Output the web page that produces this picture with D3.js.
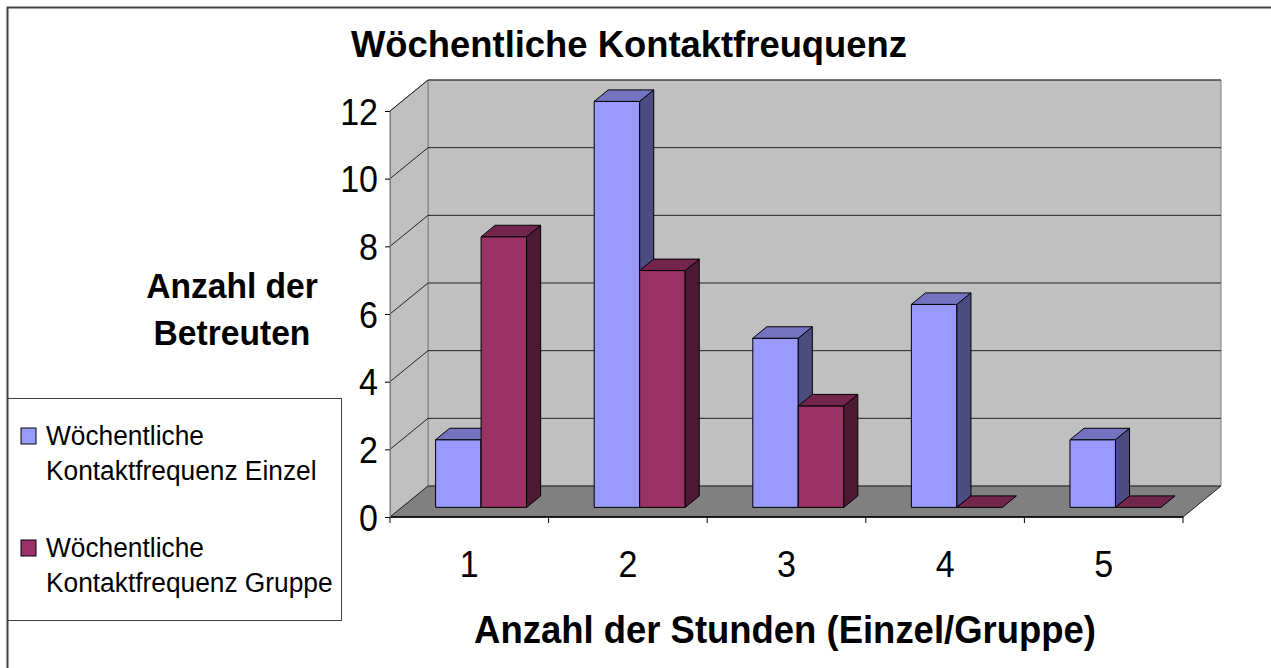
<!DOCTYPE html>
<html><head><meta charset="utf-8">
<script src="https://cdn.jsdelivr.net/npm/d3@7"></script>
<style>
html,body{margin:0;padding:0;background:#fff;}
svg{display:block;font-family:"Liberation Sans",Arial,sans-serif;}
</style></head>
<body>
<svg id="chart" width="1271" height="668"></svg>
<script>
// ---- data ----
const categories = ["1", "2", "3", "4", "5"];
const einzel = [2, 12, 5, 6, 2];
const gruppe = [8, 7, 3, 0, 0];
const seriesNames = ["Wöchentliche Kontaktfrequenz Einzel", "Wöchentliche Kontaktfrequenz Gruppe"];
const yTicks = [0, 2, 4, 6, 8, 10, 12];
const titleText = "Wöchentliche Kontaktfreuquenz";
const yTitleLines = ["Anzahl der", "Betreuten"];
const xTitleText = "Anzahl der Stunden (Einzel/Gruppe)";

// ---- styles ----
const colors = [
  {front: "#9999FF", top: "#7373BF", side: "#4C4C80"},
  {front: "#993366", top: "#73264D", side: "#4D1A33"}
];

const svg = d3.select("#chart");

// 3D projection: front plane scales + depth offset
const DX = 38, DY = 31;
const x = d3.scaleBand().domain(categories).range([390, 1183]).paddingInner(0).paddingOuter(0);
const xi = d3.scaleBand().domain([0, 1]).range([0, x.bandwidth()]).paddingInner(0).paddingOuter(0.743);
const y = d3.scaleLinear().domain([0, 12]).range([517, 111]);
const P = (px, v, z) => [px + z * DX, y(v) - z * DY];
const poly = pts => pts.map(p => p.join(",")).join(" ");

const x0 = x.range()[0], x1 = x.range()[1];

// helper: text with horizontal scale
function stext(parent, tx, ty, sx, size, bold, anchor, str) {
  return parent.append("text")
    .attr("transform", `translate(${tx},${ty}) scale(${sx},1)`)
    .attr("text-anchor", anchor).attr("font-size", size)
    .attr("font-weight", bold ? "bold" : "normal").attr("fill", "#000").text(str);
}

// outer border
svg.append("rect").attr("x", 7.5).attr("y", 7.5).attr("width", 1280).attr("height", 700)
  .attr("fill", "none").attr("stroke", "#404040").attr("stroke-width", 2);

// walls
svg.append("polygon").attr("points", poly([P(x0, 0, 1), P(x1, 0, 1), P(x1, 12, 1), P(x0, 12, 1)]))
  .attr("fill", "#C0C0C0").attr("stroke", "#808080").attr("stroke-width", 1);
svg.append("polygon").attr("points", poly([P(x0, 0, 0), P(x0, 0, 1), P(x0, 12, 1), P(x0, 12, 0)]))
  .attr("fill", "#C0C0C0").attr("stroke", "#808080").attr("stroke-width", 1);

// gridlines
yTicks.forEach(v => {
  if (v === 0) return;
  svg.append("polyline").attr("points", poly([P(x0, v, 0), P(x0, v, 1), P(x1, v, 1)]))
    .attr("fill", "none").attr("stroke", "#222").attr("stroke-width", 1);
});

// floor
svg.append("polygon").attr("points", poly([P(x0, 0, 0), P(x0, 0, 1), P(x1, 0, 1), P(x1, 0, 0)]))
  .attr("fill", "#808080").attr("stroke", "#222").attr("stroke-width", 1);
svg.append("line").attr("x1", x0).attr("x2", x1).attr("y1", y(0)).attr("y2", y(0))
  .attr("stroke", "#000").attr("stroke-width", 1.5);

// bars
const Z0 = 0.31, ZD = 0.37;
const series = [einzel, gruppe];
const gBars = svg.append("g");
categories.forEach((c, i) => {
  series.forEach((vals, s) => {
    const v = vals[i];
    const bx0 = x(c) + xi(s), bx1 = bx0 + xi.bandwidth();
    const col = colors[s];
    const g = gBars.append("g").attr("stroke", "#000").attr("stroke-width", 1).attr("stroke-linejoin", "round");
    if (v > 0) {
      g.append("polygon").attr("points", poly([P(bx0, 0, Z0), P(bx1, 0, Z0), P(bx1, v, Z0), P(bx0, v, Z0)]))
        .attr("fill", col.front);
      g.append("polygon").attr("points", poly([P(bx1, 0, Z0), P(bx1, 0, Z0 + ZD), P(bx1, v, Z0 + ZD), P(bx1, v, Z0)]))
        .attr("fill", col.side);
    }
    g.append("polygon").attr("points", poly([P(bx0, v, Z0), P(bx1, v, Z0), P(bx1, v, Z0 + ZD), P(bx0, v, Z0 + ZD)]))
      .attr("fill", col.top);
  });
});

// y axis
const yAxis = svg.append("g").attr("transform", `translate(${x0},0)`)
  .call(d3.axisLeft(y).tickValues(yTicks).tickSize(5).tickPadding(7).tickFormat(d3.format("d")));
yAxis.select(".domain").attr("stroke", "#808080");
yAxis.selectAll(".tick line").attr("stroke", "#000");
yAxis.selectAll(".tick text").remove();
yAxis.selectAll(".tick").each(function(d) {
  stext(d3.select(this), -12, 13, 0.92, 37, false, "end", d3.format("d")(d));
});

// x axis ticks at category boundaries
const bounds = categories.map(c => x(c)).concat([x1]);
svg.append("g").selectAll("line").data(bounds).join("line")
  .attr("x1", d => d).attr("x2", d => d).attr("y1", y(0)).attr("y2", y(0) + 6)
  .attr("stroke", "#000").attr("stroke-width", 1);
const xl = svg.append("g");
categories.forEach(c => stext(xl, x(c) + x.bandwidth() / 2, 577, 0.92, 37, false, "middle", c));

// titles
stext(svg, 629, 57, 1.0, 36.4, true, "middle", titleText);
yTitleLines.forEach((t, i) => stext(svg, 232, 298 + i * 47, 0.96, 35, true, "middle", t));
stext(svg, 785, 643, 0.935, 39, true, "middle", xTitleText);

// legend
const lg = svg.append("g");
lg.append("rect").attr("x", 8).attr("y", 398.5).attr("width", 333.5).attr("height", 222)
  .attr("fill", "#fff").attr("stroke", "#404040").attr("stroke-width", 1);
seriesNames.forEach((name, s) => {
  const words = name.split(" ");
  const l1 = words[0], l2 = words.slice(1).join(" ");
  const top = 428 + s * 112;
  lg.append("rect").attr("x", 21).attr("y", top).attr("width", 15).attr("height", 16)
    .attr("fill", colors[s].front).attr("stroke", "#000").attr("stroke-width", 1);
  stext(lg, 46, top + 17, 0.94, 28, false, "start", l1);
  stext(lg, 46, top + 52, 0.94, 28, false, "start", l2);
});
</script>
</body></html>
